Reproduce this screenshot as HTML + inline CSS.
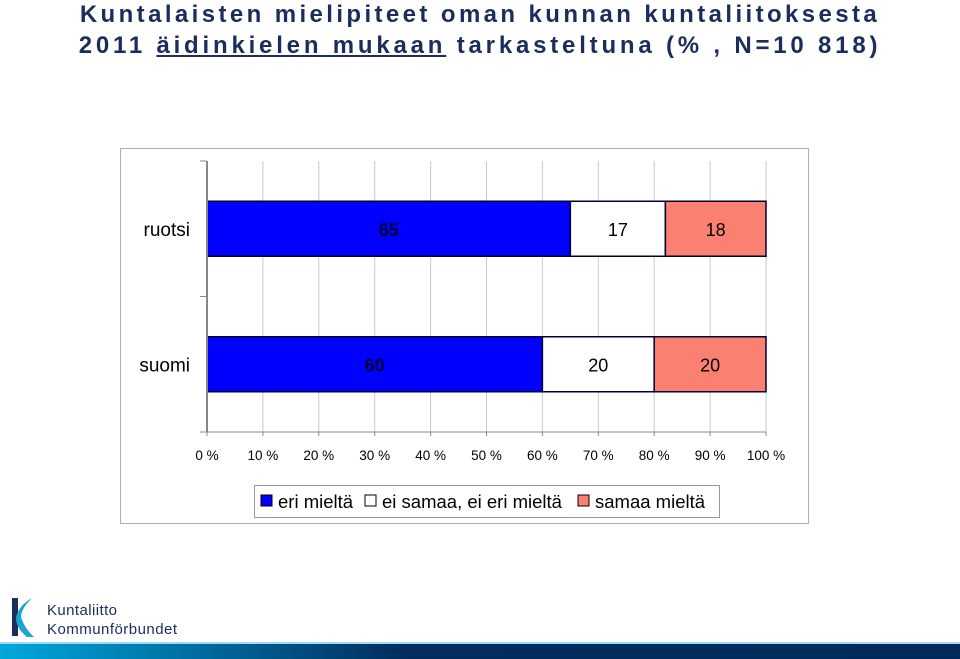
<!DOCTYPE html>
<html><head><meta charset="utf-8"><style>
body{margin:0;width:960px;height:659px;background:#fff;position:relative;overflow:hidden;font-family:"Liberation Sans",sans-serif}
.title{position:absolute;left:0;width:960px;text-align:center;color:#1b2d5c;font-weight:bold;font-size:24px;line-height:30px}
</style></head><body>
<div class="title" style="top:0;letter-spacing:3.4px">Kuntalaisten mielipiteet oman kunnan kuntaliitoksesta</div>
<div class="title" style="top:31px;letter-spacing:3.8px">2011 <span style="text-decoration:underline">äidinkielen mukaan</span> tarkasteltuna (% , N=10 818)</div>
<svg id="chart" width="960" height="659" style="position:absolute;left:0;top:0">
<rect x="120.5" y="148.5" width="688" height="375" fill="#fff" stroke="#b0b0b0"/>
<g id="grid"></g><g id="bars"></g><g id="axis"></g>
<g>
<rect x="254.5" y="485.5" width="465" height="32" fill="#fff" stroke="#999"/>
<rect x="261" y="495" width="11" height="11" fill="#0000ff" stroke="#000"/>
<text x="278" y="508" font-size="18.5">eri mieltä</text>
<rect x="365" y="495" width="11" height="11" fill="#fff" stroke="#000"/>
<text x="382" y="508" font-size="18.5">ei samaa, ei eri mieltä</text>
<rect x="578" y="495" width="11" height="11" fill="#fa8072" stroke="#000"/>
<text x="595" y="508" font-size="18.5">samaa mieltä</text>
</g>
<g>
<path d="M12 598 L18 598 L18 636 L12 636 Z" fill="#1b2d5c"/>
<path d="M32 598 Q18 612 22 620 Q26 630 34 637 L27 637 Q16 628 16 618 Q18 606 32 598Z" fill="#1aa3d8"/>
<text x="47" y="615" font-size="15" fill="#1b2d5c" textLength="70">Kuntaliitto</text>
<text x="47" y="634" font-size="15" fill="#1b2d5c" textLength="130">Kommunförbundet</text>
</g>
<defs><linearGradient id="gb" x1="0" x2="1"><stop offset="0" stop-color="#00a8dc"/><stop offset="0.42" stop-color="#002d5e"/><stop offset="1" stop-color="#002a5a"/></linearGradient></defs>
<rect x="0" y="642" width="960" height="2" fill="#9fdcf2"/>
<rect x="0" y="644" width="960" height="15" fill="url(#gb)"/>
</svg>
<script>
const categories=["ruotsi","suomi"];
const eriMielta=[65,60];
const eiSamaaEiEri=[17,20];
const samaaMielta=[18,20];
const tickValues=[0,10,20,30,40,50,60,70,80,90,100];
const tickLabels=["0 %","10 %","20 %","30 %","40 %","50 %","60 %","70 %","80 %","90 %","100 %"];
const NS="http://www.w3.org/2000/svg";
const x0=207,x1=766,yTop=161,yBot=432;
const xs=v=>x0+(x1-x0)*v/100;
const bandH=(yBot-yTop)/categories.length;
const yc=i=>yTop+bandH*(i+0.5);
function mk(tag,attrs,parent){const e=document.createElementNS(NS,tag);for(const k in attrs)e.setAttribute(k,attrs[k]);document.getElementById(parent).appendChild(e);return e;}
tickValues.forEach((v,i)=>{
  if(v>0){const g=mk('line',{x1:xs(v),x2:xs(v),y1:yTop,y2:yBot,stroke:'#c8c8c8'},'grid');
  
  }
  const t=mk('line',{x1:xs(v),x2:xs(v),y1:yBot,y2:yBot+4,stroke:'#888'},'axis');
  
  
  const l=mk('text',{x:xs(v),y:460,'font-size':13.5,'text-anchor':'middle'},'axis');
  l.textContent=tickLabels[i];
  
  
});
const ax=mk('line',{x1:x0,x2:x0,y1:yTop,y2:yBot,stroke:'#888','stroke-width':2},'axis');


const bx=mk('line',{x1:x0,x2:x1,y1:yBot,y2:yBot,stroke:'#888'},'axis');


for(let k=0;k<=categories.length;k++){const t=mk('line',{x1:x0-7,x2:x0,y1:yTop+bandH*k,y2:yTop+bandH*k,stroke:'#888'},'axis');

}
const series=[[eriMielta,'#0000ff','eri'],[eiSamaaEiEri,'#ffffff','neutral'],[samaaMielta,'#fa8072','samaa']];
categories.forEach((c,i)=>{
  const cl=mk('text',{x:190,y:yc(i)+7,'font-size':19,'text-anchor':'end'},'axis');
  cl.textContent=c;
  
  
  let acc=0;const h=55;
  series.forEach(([arr,col,nm])=>{
    const v=arr[i];
    const r=mk('rect',{x:xs(acc),y:yc(i)-h/2,width:xs(acc+v)-xs(acc),height:h,fill:col,stroke:'#000033','stroke-width':1.5},'bars');
    
    
    const t=mk('text',{x:(xs(acc)+xs(acc+v))/2,y:yc(i)+7,'font-size':18,'text-anchor':'middle','font-weight':nm==='eri'?'bold':'normal',fill:nm==='eri'?'#000033':'#000'},'bars');
    t.textContent=v;
    
    
    acc+=v;
  });
});
</script>
</body></html>
